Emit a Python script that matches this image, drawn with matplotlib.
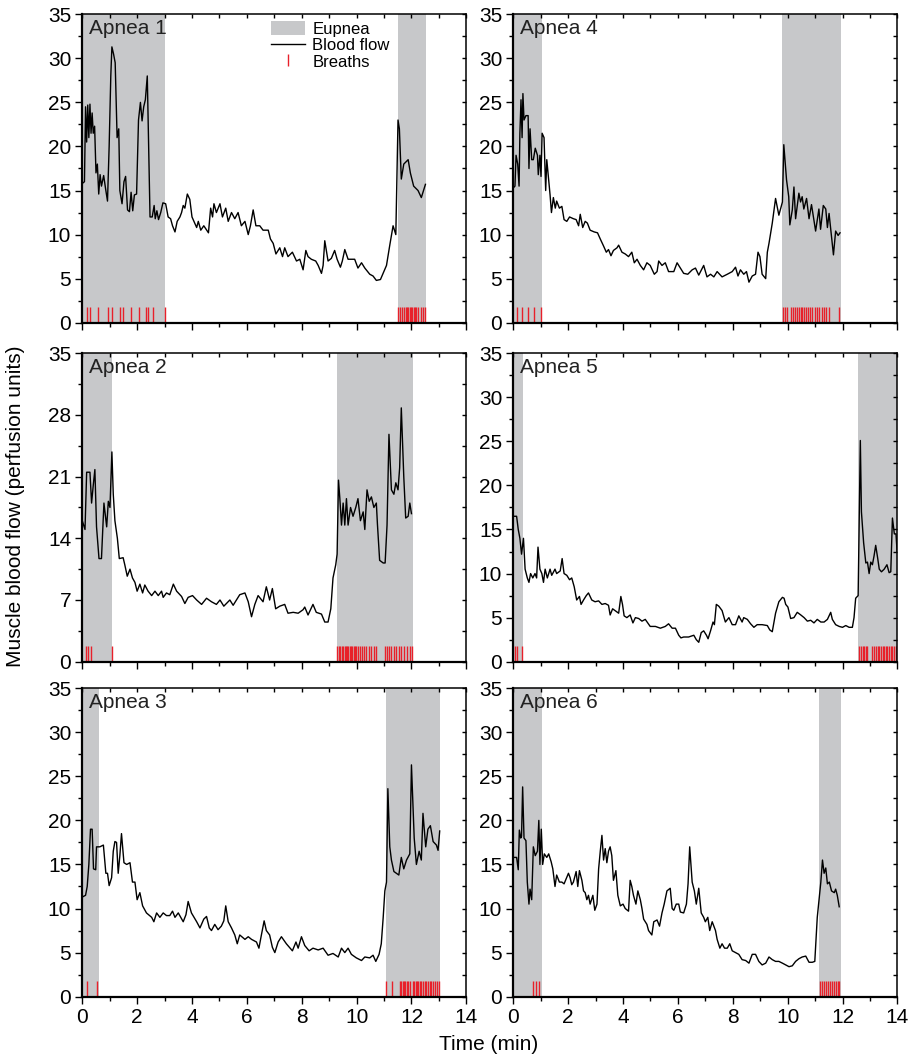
import matplotlib
matplotlib.use("Agg")
import matplotlib.pyplot as plt
from matplotlib.lines import Line2D
from matplotlib.patches import Patch
from matplotlib.ticker import MultipleLocator

plt.rcParams['font.family'] = ['Liberation Sans', 'DejaVu Sans']

GREY = '#c7c8ca'
RED = '#e8202a'

# apnea 1
t1 = [0.0, 0.08, 0.12, 0.16, 0.2, 0.24, 0.28, 0.32, 0.36, 0.4,
      0.45, 0.5, 0.55, 0.6, 0.65, 0.7, 0.78, 0.85, 0.92, 0.98,
      1.04, 1.08, 1.14, 1.2, 1.27, 1.33, 1.37, 1.45, 1.52, 1.58,
      1.65, 1.72, 1.78, 1.84, 1.9, 1.98, 2.05, 2.12, 2.18, 2.24,
      2.3, 2.37, 2.42, 2.47, 2.55, 2.62, 2.66, 2.72, 2.78, 2.86,
      2.94, 3.04, 3.13, 3.22, 3.29, 3.38, 3.46, 3.56, 3.62, 3.68,
      3.74, 3.83, 3.92, 4.0, 4.07, 4.17, 4.23, 4.32, 4.43, 4.6,
      4.68, 4.75, 4.8, 4.89, 5.02, 5.11, 5.23, 5.32, 5.44, 5.56,
      5.68, 5.8, 5.93, 6.05, 6.13, 6.23, 6.33, 6.47, 6.59, 6.78,
      6.86, 6.96, 7.06, 7.2, 7.3, 7.38, 7.5, 7.66, 7.81, 7.93,
      8.05, 8.15, 8.23, 8.35, 8.51, 8.6, 8.72, 8.78, 8.84, 8.96,
      9.08, 9.2, 9.29, 9.41, 9.48, 9.57, 9.69, 9.93, 10.05, 10.18,
      10.3, 10.48, 10.6, 10.72, 10.87, 11.09, 11.21, 11.33, 11.43, 11.51,
      11.56, 11.63, 11.72, 11.88, 11.96, 12.08, 12.24, 12.36, 12.51]
f1 = [15.8, 16.0, 24.5, 20.5, 24.7, 21.0, 24.8, 21.5, 23.8, 21.5,
      22.3, 17.0, 18.0, 14.6, 16.8, 15.5, 16.7, 15.2, 13.8, 20.0,
      28.0, 31.3, 30.5, 29.5, 21.0, 22.0, 15.0, 13.5, 16.0, 16.6,
      12.8, 12.6, 14.8, 12.7, 14.5, 14.6, 23.0, 25.0, 22.9, 24.5,
      25.3, 28.0, 20.0, 12.0, 12.0, 13.3, 11.8, 12.7, 11.7, 12.5,
      13.6, 13.5, 12.0, 11.8, 11.0, 10.3, 11.5, 12.0, 12.5, 13.3,
      13.0, 14.6, 14.0, 12.0, 11.5, 10.8, 11.5, 10.5, 11.0, 10.2,
      13.0, 12.0, 13.5, 12.5, 13.5, 12.0, 13.0, 11.5, 12.5, 11.8,
      12.5, 11.0, 11.5, 10.0, 11.0, 12.8, 11.0, 11.0, 10.5, 10.5,
      9.5, 9.0, 7.8, 8.5, 7.5, 8.5, 7.5, 8.0, 7.0, 7.2,
      6.0, 8.2, 7.5, 7.2, 7.0, 6.5, 5.6, 6.5, 9.3, 7.0,
      7.3, 8.2, 7.2, 6.3, 7.0, 8.3, 7.2, 7.2, 6.2, 6.8,
      6.2, 5.5, 5.3, 4.8, 4.9, 6.5, 8.8, 11.0, 10.0, 23.0,
      22.0, 16.3, 18.0, 18.5, 17.0, 15.5, 15.0, 14.2, 15.7]
b1 = [0.16, 0.28, 0.56, 0.92, 1.10, 1.37, 1.49, 1.76, 2.08, 2.31, 2.40, 2.59, 3.01,
      11.51, 11.58, 11.66, 11.73, 11.79, 11.84, 11.89, 11.94, 11.99, 12.03,
      12.08, 12.13, 12.18, 12.25, 12.34, 12.42, 12.51]
e1 = [(0, 3.03), (11.5, 12.54)]

# apnea 2
t2 = [0.0, 0.1, 0.16, 0.28, 0.34, 0.4, 0.46, 0.52, 0.61, 0.7,
      0.79, 0.89, 0.95, 1.01, 1.08, 1.13, 1.19, 1.28, 1.35, 1.49,
      1.55, 1.64, 1.74, 1.83, 1.92, 2.0, 2.1, 2.2, 2.28, 2.4,
      2.53, 2.65, 2.77, 2.89, 2.95, 3.07, 3.19, 3.32, 3.44, 3.62,
      3.74, 3.86, 4.02, 4.17, 4.35, 4.53, 4.71, 4.89, 5.02, 5.16,
      5.38, 5.5, 5.74, 5.93, 6.05, 6.17, 6.29, 6.41, 6.59, 6.71,
      6.83, 6.93, 7.05, 7.2, 7.38, 7.5, 7.69, 7.87, 8.05, 8.11,
      8.23, 8.41, 8.53, 8.72, 8.84, 8.96, 9.06, 9.14, 9.24, 9.29,
      9.34, 9.39, 9.45, 9.51, 9.57, 9.63, 9.69, 9.78, 9.87, 9.97,
      10.05, 10.14, 10.24, 10.3, 10.38, 10.46, 10.54, 10.63, 10.72, 10.76,
      10.84, 10.97, 11.04, 11.11, 11.18, 11.27, 11.36, 11.43, 11.51, 11.57,
      11.63, 11.72, 11.79, 11.88, 11.94, 12.0]
f2 = [16.0, 15.0, 21.5, 21.5, 18.0, 20.0, 21.8, 15.3, 11.7, 11.7,
      18.0, 15.3, 18.2, 17.5, 23.8, 19.0, 16.0, 14.0, 11.7, 11.8,
      11.0, 9.7, 10.5, 9.5, 9.0, 8.0, 8.8, 7.8, 8.7, 8.0,
      7.5, 8.0, 7.5, 8.0, 7.3, 7.8, 7.6, 8.8, 8.0, 7.4,
      6.6, 7.3, 7.5, 7.0, 6.5, 7.2, 6.8, 6.5, 7.0, 6.3,
      7.0, 6.4, 7.6, 7.8, 6.8, 5.1, 6.5, 7.5, 6.8, 8.5,
      7.0, 8.3, 6.0, 6.3, 6.5, 5.5, 5.6, 5.5, 5.9, 6.2,
      5.3, 6.5, 5.6, 5.4, 4.5, 4.5, 6.0, 9.5, 11.0, 12.2,
      20.6, 18.5, 15.5, 18.0, 15.5, 18.5, 15.5, 17.5, 16.5, 17.5,
      18.5, 16.0, 17.0, 15.0, 19.5, 18.2, 18.7, 17.5, 18.0, 15.6,
      11.5, 11.2, 11.2, 15.5, 25.8, 19.5, 19.0, 20.3, 19.5, 22.0,
      28.8, 21.0, 16.3, 16.5, 18.0, 16.8]
b2 = [0.12, 0.22, 0.33, 1.07,
      9.30, 9.36, 9.41, 9.46, 9.51, 9.56, 9.61, 9.65, 9.70, 9.75, 9.80, 9.85,
      9.90, 9.95, 9.99, 10.04, 10.12, 10.19, 10.26, 10.36, 10.46, 10.54, 10.64,
      10.72, 11.03, 11.11, 11.18, 11.27, 11.35, 11.45, 11.55, 11.63, 11.73,
      11.84, 11.94, 12.01]
e2 = [(0, 1.1), (9.29, 12.05)]

# apnea 3
t3 = [0.0, 0.12, 0.18, 0.24, 0.3, 0.36, 0.41, 0.49, 0.52, 0.64,
      0.77, 0.86, 0.92, 0.98, 1.07, 1.13, 1.19, 1.25, 1.31, 1.37,
      1.43, 1.52, 1.62, 1.74, 1.83, 1.92, 2.0, 2.1, 2.2, 2.34,
      2.53, 2.61, 2.71, 2.83, 2.95, 3.07, 3.19, 3.29, 3.38, 3.5,
      3.68, 3.78, 3.86, 3.98, 4.17, 4.29, 4.43, 4.53, 4.63, 4.71,
      4.83, 4.95, 5.07, 5.16, 5.23, 5.32, 5.44, 5.56, 5.65, 5.74,
      5.93, 6.05, 6.17, 6.35, 6.44, 6.53, 6.63, 6.71, 6.83, 6.93,
      7.02, 7.14, 7.26, 7.44, 7.66, 7.79, 7.87, 7.99, 8.11, 8.27,
      8.41, 8.6, 8.78, 8.96, 9.14, 9.33, 9.45, 9.57, 9.69, 9.81,
      9.99, 10.18, 10.3, 10.48, 10.6, 10.7, 10.82, 10.9, 10.97, 11.03,
      11.09, 11.14, 11.21, 11.27, 11.36, 11.45, 11.54, 11.63, 11.72, 11.82,
      11.94, 12.0, 12.1, 12.18, 12.28, 12.36, 12.42, 12.52, 12.6, 12.69,
      12.79, 12.91, 12.97, 13.03]
f3 = [11.3, 11.5, 12.5, 15.0, 19.0, 19.0, 14.5, 14.4, 17.0, 17.0,
      17.2, 14.0, 14.0, 12.6, 13.5, 16.5, 17.6, 17.5, 14.0, 16.0,
      18.5, 15.2, 15.0, 15.2, 13.0, 13.0, 11.0, 11.8, 10.3, 9.5,
      9.0, 8.5, 9.5, 9.0, 9.5, 9.2, 9.2, 9.7, 9.0, 9.5,
      8.5, 9.3, 10.8, 9.5, 8.5, 7.8, 8.8, 9.1, 7.8, 7.5,
      8.2, 7.6, 8.0, 8.6, 10.3, 8.5, 7.8, 7.0, 6.0, 7.0,
      6.5, 6.8, 6.5, 6.2, 5.5, 7.0, 8.6, 7.5, 7.0, 5.6,
      5.0, 6.2, 6.8, 6.0, 5.2, 6.2, 5.5, 6.8, 5.8, 5.2,
      5.5, 5.3, 5.5, 4.7, 4.9, 4.5, 5.5, 5.0, 5.5, 4.8,
      4.4, 4.1, 4.5, 4.4, 4.7, 4.0, 4.8, 6.0, 9.0, 12.0,
      13.0, 23.6, 17.0, 15.5, 14.2, 14.0, 13.8, 15.8, 14.5, 15.5,
      16.2, 26.3, 18.0, 15.0, 16.5, 15.5, 20.8, 17.0, 19.0, 19.4,
      17.6, 17.2, 16.6, 18.8]
b3 = [0.16, 0.55,
      11.09, 11.28, 11.57, 11.63, 11.68, 11.73, 11.78, 11.83, 11.88, 11.94,
      12.06, 12.11, 12.16, 12.20, 12.25, 12.30, 12.36, 12.42, 12.48, 12.54,
      12.60, 12.67, 12.73, 12.79, 12.86, 12.93, 13.01]
e3 = [(0, 0.61), (11.06, 13.05)]

# apnea 4
t4 = [0.0, 0.06, 0.1, 0.16, 0.21, 0.24, 0.28, 0.32, 0.35, 0.39,
      0.46, 0.54, 0.57, 0.61, 0.67, 0.73, 0.8, 0.88, 0.91, 0.97,
      1.01, 1.05, 1.12, 1.18, 1.22, 1.28, 1.34, 1.39, 1.46, 1.53,
      1.58, 1.68, 1.77, 1.85, 1.95, 2.05, 2.19, 2.29, 2.38, 2.44,
      2.53, 2.62, 2.7, 2.8, 2.95, 3.07, 3.17, 3.29, 3.39, 3.47,
      3.56, 3.65, 3.78, 3.84, 3.96, 4.08, 4.2, 4.32, 4.41, 4.51,
      4.63, 4.75, 4.87, 4.99, 5.14, 5.24, 5.3, 5.42, 5.54, 5.66,
      5.85, 5.97, 6.09, 6.21, 6.36, 6.52, 6.64, 6.76, 6.94, 7.06,
      7.19, 7.31, 7.43, 7.61, 7.8, 7.98, 8.1, 8.19, 8.28, 8.4,
      8.5, 8.59, 8.71, 8.83, 8.92, 8.99, 9.07, 9.2, 9.26, 9.32,
      9.44, 9.56, 9.68, 9.81, 9.86, 9.96, 10.04, 10.08, 10.17, 10.23,
      10.29, 10.41, 10.47, 10.53, 10.59, 10.69, 10.78, 10.87, 10.96, 11.02,
      11.14, 11.2, 11.3, 11.39, 11.45, 11.51, 11.6, 11.67, 11.75, 11.84,
      11.91]
f4 = [15.3, 15.5, 19.0, 18.0, 15.5, 21.5, 25.3, 21.0, 26.0, 23.0,
      23.5, 23.5, 17.5, 22.0, 18.5, 18.5, 19.8, 19.0, 16.8, 19.0,
      16.6, 21.5, 21.0, 15.0, 18.5, 16.5, 14.5, 12.5, 14.2, 13.0,
      13.8, 13.0, 13.2, 11.7, 11.5, 12.0, 11.8, 11.7, 11.0, 12.3,
      10.8, 11.5, 11.3, 10.5, 10.3, 10.2, 9.5, 8.7, 8.0, 8.3,
      7.6, 8.2, 8.5, 8.8, 8.0, 7.8, 7.5, 8.0, 6.8, 7.2,
      6.5, 6.0, 6.8, 6.5, 5.5, 5.8, 7.0, 6.5, 6.8, 5.8,
      5.8, 6.8, 6.2, 5.6, 5.5, 6.0, 6.2, 5.4, 6.5, 5.2,
      5.5, 5.2, 5.8, 5.2, 5.5, 5.8, 6.3, 5.3, 6.0, 5.5,
      5.8, 4.6, 5.3, 5.5, 8.0, 7.5, 5.5, 5.0, 8.0, 9.0,
      11.3, 14.1, 12.2, 13.7, 20.2, 16.2, 14.3, 11.1, 12.8, 15.4,
      11.8, 14.7, 13.7, 14.3, 12.9, 14.1, 11.8, 13.4, 11.6, 10.4,
      12.9, 10.6, 13.3, 12.9, 10.8, 12.4, 9.8, 7.7, 10.4, 9.9,
      10.2]
b4 = [0.12, 0.33, 0.55, 0.76, 1.01,
      9.83, 9.90, 9.96, 10.13, 10.21, 10.28, 10.35, 10.41, 10.48, 10.54,
      10.60, 10.66, 10.74, 10.82, 10.90, 10.99, 11.08, 11.16, 11.24, 11.33,
      11.41, 11.50, 11.88]
e4 = [(0, 1.04), (9.78, 11.94)]

# apnea 5
t5 = [0.0, 0.12, 0.18, 0.24, 0.3, 0.37, 0.43, 0.51, 0.57, 0.63,
      0.71, 0.79, 0.85, 0.9, 0.97, 1.04, 1.1, 1.16, 1.24, 1.34,
      1.4, 1.52, 1.58, 1.71, 1.78, 1.85, 1.95, 2.05, 2.13, 2.22,
      2.31, 2.41, 2.47, 2.56, 2.66, 2.74, 2.86, 2.98, 3.11, 3.23,
      3.35, 3.47, 3.53, 3.62, 3.71, 3.84, 3.92, 3.98, 4.04, 4.14,
      4.26, 4.36, 4.45, 4.57, 4.69, 4.81, 4.99, 5.18, 5.36, 5.54,
      5.66, 5.79, 5.91, 6.03, 6.11, 6.21, 6.39, 6.58, 6.67, 6.76,
      6.85, 6.94, 7.04, 7.1, 7.19, 7.28, 7.33, 7.4, 7.49, 7.61,
      7.73, 7.86, 7.98, 8.1, 8.22, 8.34, 8.4, 8.53, 8.65, 8.77,
      8.89, 9.07, 9.26, 9.35, 9.44, 9.56, 9.68, 9.81, 9.87, 9.93,
      10.01, 10.11, 10.23, 10.35, 10.48, 10.6, 10.72, 10.84, 10.96, 11.08,
      11.21, 11.33, 11.45, 11.57, 11.63, 11.75, 11.88, 12.0, 12.12, 12.24,
      12.36, 12.42, 12.48, 12.57, 12.65, 12.69, 12.77, 12.85, 12.91, 12.97,
      13.03, 13.09, 13.15, 13.21, 13.28, 13.34, 13.42, 13.52, 13.62, 13.7,
      13.76, 13.82, 13.89, 13.95, 13.99]
f5 = [16.5, 16.5, 15.0, 14.0, 12.2, 14.0, 10.5, 9.5, 9.0, 10.0,
      9.5, 10.0, 9.5, 13.0, 10.5, 10.0, 9.0, 10.5, 9.5, 10.5,
      9.8, 10.5, 10.0, 10.3, 11.7, 10.0, 9.8, 9.3, 9.5, 8.5,
      7.0, 7.4, 6.5, 7.0, 7.5, 7.8, 7.0, 6.8, 6.9, 6.5,
      6.6, 6.4, 5.3, 6.0, 5.8, 5.5, 7.4, 6.5, 5.2, 5.0,
      5.3, 4.4, 5.0, 4.9, 4.6, 4.8, 4.0, 4.0, 3.8, 4.0,
      4.3, 3.8, 3.8, 3.0, 2.7, 2.8, 2.8, 3.0, 2.5, 2.2,
      3.3, 3.5, 3.0, 2.6, 3.5, 4.5, 4.2, 6.5, 6.3, 5.8,
      4.5, 5.0, 4.2, 4.2, 5.2, 4.5, 5.0, 4.8, 4.3, 3.9,
      4.2, 4.2, 4.1, 3.6, 3.4, 5.5, 6.8, 7.3, 7.2, 6.5,
      6.2, 4.9, 5.0, 5.6, 5.3, 5.0, 4.6, 4.7, 4.4, 4.8,
      4.5, 4.5, 4.8, 5.6, 4.8, 4.2, 4.0, 3.9, 4.1, 3.9,
      3.9, 5.0, 7.2, 7.5, 25.1, 17.0, 13.5, 11.2, 11.3, 10.0,
      11.3, 11.0, 12.0, 13.2, 11.8, 10.5, 10.2, 10.5, 11.0, 10.1,
      10.2, 16.3, 14.5, 14.5, 12.5]
b5 = [0.06, 0.15, 0.30,
      12.61, 12.67, 12.73, 12.79, 12.85, 12.91, 13.09, 13.15, 13.22, 13.28,
      13.34, 13.40, 13.46, 13.52, 13.58, 13.64, 13.70, 13.76, 13.82, 13.89,
      13.95, 13.99]
e5 = [(0, 0.34), (12.57, 14.0)]

# apnea 6
t6 = [0.0, 0.12, 0.18, 0.22, 0.27, 0.3, 0.34, 0.39, 0.46, 0.51,
      0.57, 0.61, 0.67, 0.73, 0.8, 0.88, 0.93, 0.97, 1.02, 1.07,
      1.13, 1.22, 1.29, 1.38, 1.44, 1.52, 1.58, 1.68, 1.77, 1.85,
      2.01, 2.07, 2.13, 2.19, 2.29, 2.35, 2.41, 2.5, 2.56, 2.62,
      2.68, 2.74, 2.8, 2.9, 2.97, 3.05, 3.11, 3.17, 3.23, 3.29,
      3.35, 3.41, 3.47, 3.53, 3.59, 3.65, 3.74, 3.81, 3.9, 4.0,
      4.08, 4.2, 4.26, 4.32, 4.38, 4.47, 4.54, 4.63, 4.69, 4.75,
      4.87, 4.93, 5.05, 5.12, 5.24, 5.33, 5.42, 5.5, 5.6, 5.72,
      5.79, 5.85, 5.94, 6.03, 6.09, 6.21, 6.31, 6.37, 6.43, 6.52,
      6.6, 6.67, 6.76, 6.85, 6.94, 7.0, 7.09, 7.16, 7.25, 7.31,
      7.37, 7.43, 7.53, 7.61, 7.7, 7.8, 7.89, 7.98, 8.1, 8.22,
      8.34, 8.47, 8.59, 8.71, 8.83, 8.95, 9.07, 9.2, 9.32, 9.44,
      9.56, 9.68, 9.81, 9.93, 10.05, 10.17, 10.29, 10.41, 10.53, 10.66,
      10.78, 10.9, 10.99, 11.08, 11.21, 11.27, 11.33, 11.39, 11.45, 11.52,
      11.6, 11.7, 11.75, 11.81, 11.88]
f6 = [15.8, 15.8, 14.4, 18.9, 18.0, 18.2, 23.8, 18.0, 17.7, 13.0,
      10.5, 12.2, 11.0, 17.0, 16.0, 16.5, 20.0, 15.0, 19.0, 15.0,
      16.2, 15.8, 16.2, 15.3, 14.5, 12.5, 13.8, 13.0, 13.0, 12.8,
      14.0, 13.5, 12.7, 13.0, 14.2, 12.5, 14.3, 13.2, 12.0, 11.8,
      11.0, 11.5, 10.5, 11.5, 9.8, 10.5, 14.5, 16.5, 18.3, 15.5,
      16.8, 15.2, 16.5, 17.0, 16.0, 13.2, 14.3, 11.5, 10.3, 10.5,
      10.0, 9.7, 13.2, 12.5, 11.5, 10.5, 12.0, 11.0, 10.0, 8.8,
      8.2, 7.5, 7.0, 8.5, 8.7, 8.0, 9.5, 10.5, 12.0, 12.3,
      10.0, 9.8, 10.5, 10.5, 9.6, 9.5, 10.5, 12.8, 17.0, 13.0,
      12.0, 10.5, 12.3, 9.5, 9.0, 8.5, 9.0, 7.5, 8.5, 8.0,
      7.5, 6.5, 5.5, 6.0, 5.5, 5.5, 6.0, 5.2, 5.0, 4.8,
      4.2, 4.1, 3.8, 4.8, 4.8, 4.0, 3.6, 3.8, 4.5, 4.2,
      4.0, 4.0, 3.8, 3.6, 3.4, 3.5, 4.0, 4.3, 4.5, 4.6,
      3.9, 3.9, 4.0, 9.0, 13.0, 15.5, 14.0, 14.6, 12.8, 13.0,
      12.0, 11.8, 12.2, 11.5, 10.2]
b6 = [0.73, 0.83, 0.95,
      11.18, 11.25, 11.33, 11.40, 11.47, 11.55, 11.62, 11.69, 11.77, 11.84, 11.89]
e6 = [(0, 1.04), (11.14, 11.94)]

labels = ['Apnea 1', 'Apnea 2', 'Apnea 3', 'Apnea 4', 'Apnea 5', 'Apnea 6']
times = [t1, t2, t3, t4, t5, t6]
flows = [f1, f2, f3, f4, f5, f6]
breaths = [b1, b2, b3, b4, b5, b6]
eupnea = [e1, e2, e3, e4, e5, e6]
ystep = [5, 7, 5, 5, 5, 5]

fig = plt.figure(figsize=(9.09, 10.57), dpi=100)

lefts = [0.0905, 0.5647]
bottoms = [0.6947, 0.3740, 0.0571]
w = 0.4225
h = 0.2918

axes = []
for i in range(6):
    col, row = divmod(i, 3)
    ax = fig.add_axes([lefts[col], bottoms[row], w, h])
    axes.append(ax)

    for a, b in eupnea[i]:
        ax.axvspan(a, b, color=GREY, lw=0, zorder=0)
    ax.plot(times[i], flows[i], color='black', lw=1.0, zorder=3)
    ax.vlines(breaths[i], 0, 1.8, color=RED, lw=1.0, zorder=2)

    ax.set_xlim(0, 14)
    ax.set_ylim(0, 35)
    ax.xaxis.set_major_locator(MultipleLocator(2))
    ax.xaxis.set_minor_locator(MultipleLocator(1))
    ax.yaxis.set_major_locator(MultipleLocator(ystep[i]))
    ax.yaxis.set_minor_locator(MultipleLocator(ystep[i] / 2))

    ax.tick_params(which='both', direction='out', labelsize=15, width=1.0,
                   top=True, right=True, pad=3)
    ax.tick_params(which='major', length=5)
    ax.tick_params(which='minor', length=3)
    if row != 2:
        ax.tick_params(axis='x', labelbottom=False)

    for s in ['left', 'bottom']:
        ax.spines[s].set_linewidth(1.6)
    for s in ['top', 'right']:
        ax.spines[s].set_linewidth(1.1)

    ax.text(0.017, 0.985, labels[i], transform=ax.transAxes, ha='left', va='top',
            fontsize=15, color='#222222')

# top and right ticks point into the panel
for ax in axes:
    for t in ax.xaxis.get_major_ticks() + ax.xaxis.get_minor_ticks():
        t.tick2line.set_marker(3)
        t.tick2line.set_markersize(3)
    for t in ax.yaxis.get_major_ticks() + ax.yaxis.get_minor_ticks():
        t.tick2line.set_marker(0)
        t.tick2line.set_markersize(3)

handles = [Patch(facecolor=GREY, edgecolor='none'),
           Line2D([], [], color='black', lw=1.0),
           Line2D([], [], color=RED, marker='|', linestyle='none', markersize=8, markeredgewidth=1.0)]
axes[0].legend(handles, ['Eupnea', 'Blood flow', 'Breaths'], loc='upper left',
               bbox_to_anchor=(0.475, 1.0), frameon=False, fontsize=12,
               handlelength=2.0, handleheight=0.9, handletextpad=0.45,
               labelspacing=0.05, borderpad=0.2, borderaxespad=0.2)

fig.text(0.017, 0.521, 'Muscle blood flow (perfusion units)', rotation=90,
         ha='center', va='center', fontsize=15)
fig.text(0.538, 0.012, 'Time (min)', ha='center', va='center', fontsize=15)

fig.savefig('out.png', dpi=100)
